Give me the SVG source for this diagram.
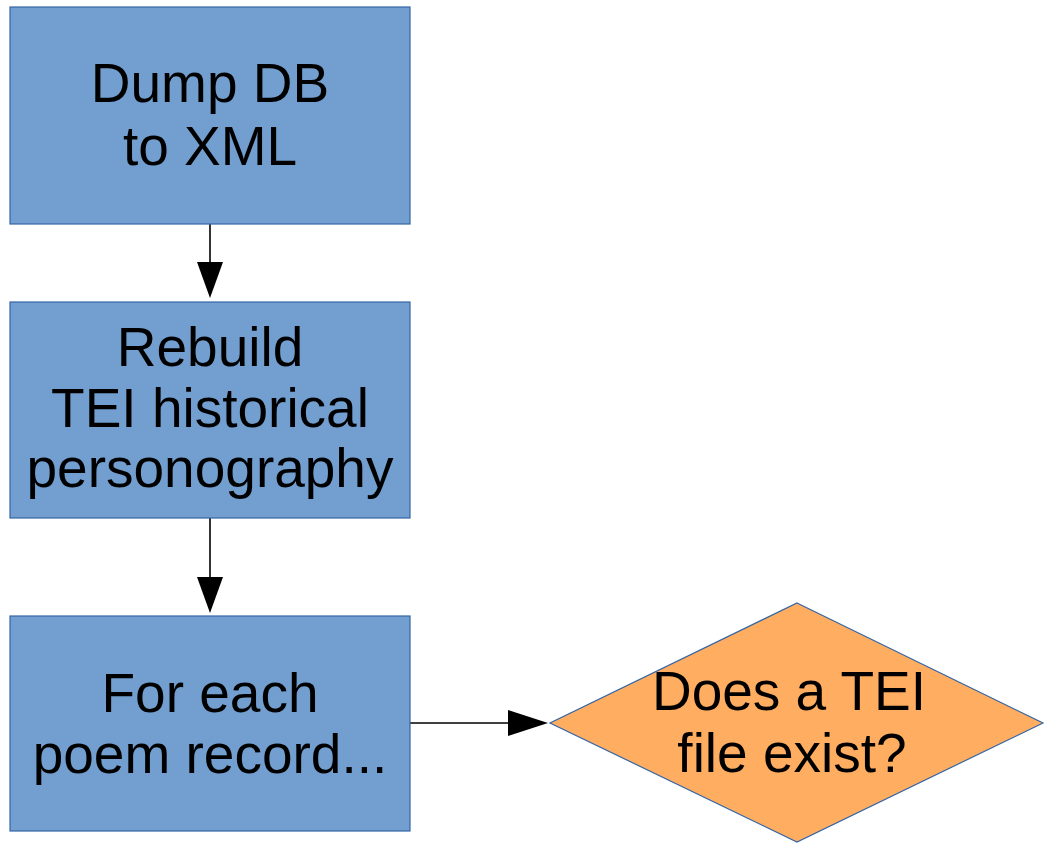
<svg xmlns="http://www.w3.org/2000/svg" width="1045" height="844" viewBox="0 0 1045 844">
<style>
.box{fill:#729fcf;stroke:#3465a4;stroke-width:1.2}
.dec{fill:#ffad60;stroke:#3465a4;stroke-width:1.2}
.lbl{font-family:"Liberation Sans",Arial,sans-serif;font-size:55px;fill:#000;text-anchor:middle}
.edge{stroke:#000;stroke-width:1.6;fill:none}
.head{fill:#000}
</style>
<rect width="1045" height="844" fill="#fff"/>
<g id="connectors">
<line class="edge" x1="210" y1="224" x2="210" y2="264"/>
<polygon class="head" points="197,262 223,262 210,298"/>
<line class="edge" x1="210" y1="518" x2="210" y2="579"/>
<polygon class="head" points="197,577 223,577 210,613"/>
<line class="edge" x1="410" y1="723" x2="510" y2="723"/>
<polygon class="head" points="508,710 508,736 548,723"/>
</g>
<g id="dump">
<rect class="box" x="10" y="7" width="400" height="217"/>
<text class="lbl" x="210" y="102">Dump DB</text>
<text class="lbl" x="210" y="165">to XML</text>
</g>
<g id="rebuild">
<rect class="box" x="10" y="302" width="400" height="216"/>
<text class="lbl" x="210" y="366">Rebuild</text>
<text class="lbl" x="210" y="427">TEI historical</text>
<text class="lbl" x="210" y="487">personography</text>
</g>
<g id="foreach">
<rect class="box" x="10" y="616" width="400" height="215"/>
<text class="lbl" x="210" y="712">For each</text>
<text class="lbl" x="210" y="773">poem record...</text>
</g>
<g id="exists">
<polygon class="dec" points="797,603 1043,723 797,842 550,723"/>
<text class="lbl" x="789" y="710">Does a TEI</text>
<text class="lbl" x="792" y="772">file exist?</text>
</g>
</svg>
